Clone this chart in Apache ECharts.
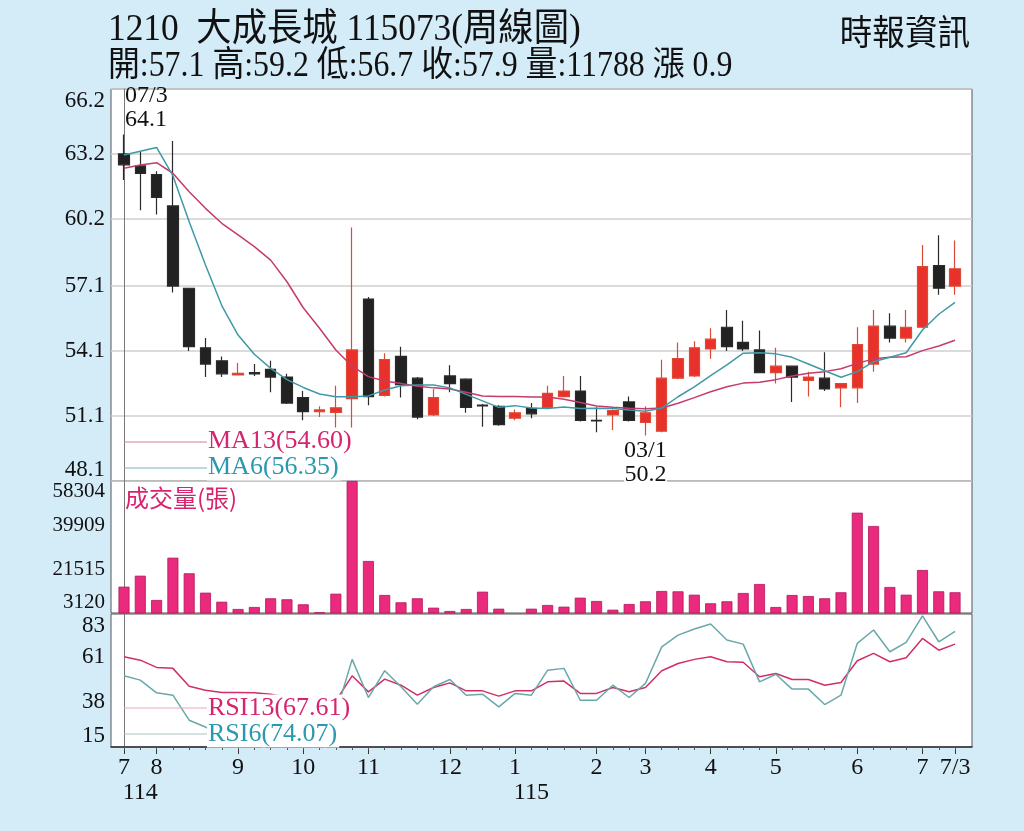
<!DOCTYPE html>
<html><head><meta charset="utf-8">
<script src="https://cdn.jsdelivr.net/npm/echarts@6/dist/echarts.min.js"></script>
<style>html,body{margin:0;padding:0;background:#d4ebf8;}#c{width:1024px;height:831px;}</style>
</head><body><div id="c"></div>
<script>
const CATEGORIES = ['114/07/3','114/07/4','114/08/1','114/08/2','114/08/3','114/08/4','114/08/5','114/09/1','114/09/2','114/09/3','114/09/4','114/10/1','114/10/2','114/10/3','114/10/4','114/11/1','114/11/2','114/11/3','114/11/4','114/11/5','114/12/1','114/12/2','114/12/3','114/12/4','115/01/1','115/01/2','115/01/3','115/01/4','115/01/5','115/02/1','115/02/2','115/02/3','115/03/1','115/03/2','115/03/3','115/03/4','115/04/1','115/04/2','115/04/3','115/04/4','115/05/1','115/05/2','115/05/3','115/05/4','115/05/5','115/06/1','115/06/2','115/06/3','115/06/4','115/07/1','115/07/2','115/07/3'];
const OPEN  = [63.2,62.65,62.25,60.8,57.0,54.25,53.65,53.0,53.1,53.25,52.9,51.95,51.3,51.27,51.9,56.5,52.05,53.85,52.85,51.15,52.95,52.8,51.6,51.55,51.0,51.45,51.5,52.0,52.25,50.9,51.15,51.75,50.8,50.4,52.85,52.95,54.2,55.2,54.5,54.15,53.1,53.4,52.75,52.85,52.4,52.4,53.5,55.25,54.7,55.2,58.05,57.1];
const CLOSE = [62.7,62.3,61.2,57.1,54.3,53.5,53.05,53.07,53.05,52.9,51.7,51.3,51.38,51.48,54.15,52.0,53.7,52.55,51.05,51.95,52.6,51.5,51.57,50.7,51.25,51.2,52.15,52.25,50.9,50.88,51.35,50.9,51.25,52.85,53.75,54.25,54.65,54.3,54.2,53.1,53.4,52.9,52.9,52.35,52.6,54.4,55.25,54.7,55.2,58.0,57.0,57.9];
const LOW   = [62.0,60.6,60.4,56.8,54.1,52.9,52.9,53.0,52.95,52.2,51.65,50.9,51.05,50.5,50.55,51.6,52.0,51.95,50.95,51.1,52.2,51.25,50.6,50.65,50.9,51.0,51.45,51.95,50.85,50.35,50.45,50.85,50.2,50.35,52.8,52.9,53.75,54.1,54.1,53.1,52.6,51.75,52.0,52.25,51.5,51.7,53.15,54.5,54.5,55.15,56.7,56.7];
const HIGH  = [64.1,63.3,62.4,63.8,57.0,54.7,53.85,53.55,53.5,53.65,53.05,52.25,51.55,52.5,59.8,56.6,54.0,54.3,52.9,52.35,53.45,52.85,51.65,51.6,51.4,51.7,52.5,52.95,52.95,51.5,51.4,52.0,51.55,53.7,54.5,54.55,55.15,56.0,55.5,55.05,54.25,53.4,53.15,54.05,52.6,55.2,56.0,55.85,56.0,59.0,59.45,59.2];
const VOLUME = [14120,18710,8555,26240,19710,11620,7840,4790,5630,9270,8850,6750,3400,11190,58304,24860,10650,7590,9270,5340,3960,4790,12030,4920,3120,4920,6460,5760,9520,8140,4500,6880,8010,12320,12180,10770,7170,8010,11480,15240,5630,10650,10230,9270,11780,45050,39490,13990,10770,21100,12190,11788];
const MA13 = [62.54,62.69,62.8,62.31,61.46,60.69,60.0,59.46,58.92,58.3,57.3,56.1,55.15,54.15,53.4,52.92,52.72,52.6,52.47,52.4,52.35,52.2,52.02,52.0,52.0,51.98,51.98,51.87,51.72,51.56,51.5,51.46,51.44,51.47,51.69,51.95,52.22,52.45,52.62,52.66,52.78,52.95,53.07,53.15,53.28,53.53,53.74,53.81,53.84,54.12,54.33,54.60];
const MA6  = [63.15,63.33,63.5,62.2,60.07,58.07,56.2,54.84,53.95,53.3,52.78,52.42,52.12,51.99,51.99,52.03,52.3,52.5,52.53,52.53,52.4,52.1,51.8,51.5,51.58,51.47,51.45,51.52,51.45,51.46,51.45,51.38,51.32,51.47,51.99,52.45,52.97,53.46,54.0,54.02,53.97,53.81,53.5,53.19,52.89,53.15,53.61,53.81,54.02,55.07,55.8,56.35];
const RSI13 = [61.1,59.4,55.7,55.2,46.1,44.0,42.9,42.9,42.7,42.0,40.5,39.0,38.0,38.6,51.4,43.2,49.7,46.6,41.5,45.4,47.8,43.7,43.7,41.0,43.7,43.7,48.3,48.7,42.4,42.4,45.4,43.2,45.4,54.0,57.7,59.8,61.1,58.6,58.3,50.9,52.6,49.5,49.5,46.6,48.0,59.1,62.9,58.6,60.6,70.5,64.5,67.61];
const RSI6  = [51.4,49.2,42.7,41.5,28.7,25.2,21,19,17,13,9,7,6,32,59.8,40.3,54.0,45.8,36.9,45.8,49.5,41.5,42.0,35.5,42.4,41.5,54.3,55.2,38.9,38.9,46.6,40.3,47.5,66.2,72.2,75.3,77.9,69.7,67.6,48.3,52.2,44.6,44.6,36.7,41.5,68.0,74.8,63.7,68.5,82.0,68.8,74.07];
const PRICE_TICKS = [48.1, 51.1, 54.1, 57.1, 60.2, 63.2, 66.2];
const VOLUME_TICKS = [3120, 21515, 39909, 58304];
const RSI_TICKS = [15, 38, 61, 83];
const MONTH_LABELS = ['7','','8','','','','','9','','','','10','','','','11','','','','','12','','','','1','','','','','2','','','3','','','','4','','','','5','','','','','6','','','','7','','7/3'];
const YEAR_LABELS = ['','114','','','','','','','','','','','','','','','','','','','','','','','','115','','','','','','','','','','','','','','','','','','','','','','','','','',''];

const SERIF = '"Liberation Serif", "Noto Sans CJK TC", serif';
const XMIN = -0.798, XMAX = 52.04;
const idx = CATEGORIES.map((c, i) => i);
const majorIdx = idx.filter(i => MONTH_LABELS[i] !== '');
const yearIdx = idx.filter(i => YEAR_LABELS[i] !== '');
const n = CATEGORIES.length - 1;
const chg = (CLOSE[n] - CLOSE[n - 1]).toFixed(1);

const chart = echarts.init(document.getElementById('c'));
const gridBase = {left: 111, right: 52, show: true, backgroundColor: '#fff', borderColor: '#555', borderWidth: 1};
const axisLbl = {fontFamily: SERIF, fontSize: 23, color: '#111', margin: 6};
function xHidden(g) { return {type: 'value', gridIndex: g, min: XMIN, max: XMAX, show: false}; }

chart.setOption({
  animation: false,
  backgroundColor: '#d4ebf8',
  grid: [
    Object.assign({top: 89, height: 392}, gridBase),
    Object.assign({top: 481, height: 132}, gridBase),
    Object.assign({top: 614, height: 133}, gridBase)
  ],
  xAxis: [
    xHidden(0), xHidden(1),
    {type: 'value', gridIndex: 2, position: 'bottom', min: XMIN, max: XMAX,
      axisLine: {show: true, lineStyle: {color: '#333', width: 1.5}},
      axisTick: {show: true, customValues: majorIdx, length: 7, lineStyle: {color: '#333'}},
      axisLabel: Object.assign({}, axisLbl, {fontSize: 24, margin: 9, customValues: majorIdx, formatter: v => MONTH_LABELS[Math.round(v)]}),
      splitLine: {show: false}},
    {type: 'value', gridIndex: 2, position: 'bottom', min: XMIN, max: XMAX,
      axisLine: {show: false},
      axisTick: {show: true, customValues: idx, length: 3, lineStyle: {color: '#555'}},
      axisLabel: {show: false}, splitLine: {show: false}},
    {type: 'value', gridIndex: 2, position: 'bottom', min: XMIN, max: XMAX, offset: 25,
      axisLine: {show: false}, axisTick: {show: false},
      axisLabel: Object.assign({}, axisLbl, {fontSize: 24, margin: 9, customValues: yearIdx, formatter: v => YEAR_LABELS[Math.round(v)]}),
      splitLine: {show: false}}
  ],
  yAxis: [
    {type: 'value', gridIndex: 0, min: 48.1, max: 66.2,
      axisLine: {show: true, lineStyle: {color: '#777'}},
      axisTick: {show: false, customValues: PRICE_TICKS},
      axisLabel: Object.assign({}, axisLbl, {customValues: PRICE_TICKS, formatter: v => v.toFixed(1), verticalAlignMinLabel: 'bottom', verticalAlignMaxLabel: 'top'}),
      splitLine: {show: true, lineStyle: {color: '#cfcfcf', width: 1.5}}},
    {type: 'value', gridIndex: 1, min: 3120, max: 58304,
      axisLine: {show: true, lineStyle: {color: '#777'}},
      axisTick: {show: false},
      axisLabel: Object.assign({}, axisLbl, {fontSize: 21, customValues: VOLUME_TICKS, formatter: v => String(Math.round(v)), verticalAlignMinLabel: 'bottom', verticalAlignMaxLabel: 'top'}),
      splitLine: {show: false}},
    {type: 'value', gridIndex: 2, min: 15, max: 83,
      axisLine: {show: true, lineStyle: {color: '#777'}},
      axisTick: {show: false},
      axisLabel: Object.assign({}, axisLbl, {customValues: RSI_TICKS, formatter: v => String(Math.round(v)), verticalAlignMinLabel: 'bottom', verticalAlignMaxLabel: 'top'}),
      splitLine: {show: false}}
  ],
  series: [
    {type: 'candlestick', xAxisIndex: 0, yAxisIndex: 0, barWidth: 11,
      data: idx.map(i => [i, OPEN[i], CLOSE[i], LOW[i], HIGH[i]]),
      encode: {x: 0, y: [1, 2, 3, 4]},
      itemStyle: {color: '#e8312b', color0: '#222222', borderColor: '#dc4a36', borderColor0: '#2a2a2a', borderWidth: 1.2},
      markPoint: {
        symbol: 'rect', symbolSize: 1, itemStyle: {color: 'rgba(0,0,0,0)'},
        label: {fontFamily: SERIF, fontSize: 24, lineHeight: 24, color: '#111'},
        data: [
          {coord: [0, HIGH[0]], value: HIGH[0],
            label: {position: 'top', distance: 2, align: 'left', offset: [1, 0],
              formatter: CATEGORIES[0].slice(4) + '\n' + HIGH[0].toFixed(1)}},
          {coord: [32, LOW[32]], value: LOW[32],
            label: {position: 'bottom', distance: 3, backgroundColor: '#fff',
              formatter: CATEGORIES[32].slice(4) + '\n' + LOW[32].toFixed(1)}}
        ]
      }
    },
    {type: 'line', name: 'MA13', xAxisIndex: 0, yAxisIndex: 0, data: idx.map(i => [i, MA13[i]]),
      showSymbol: false, lineStyle: {color: '#c63a6c', width: 1.5}, z: 3},
    {type: 'line', name: 'MA6', xAxisIndex: 0, yAxisIndex: 0, data: idx.map(i => [i, MA6[i]]),
      showSymbol: false, lineStyle: {color: '#3e9aa6', width: 1.5}, z: 3},
    {type: 'bar', xAxisIndex: 1, yAxisIndex: 1, barWidth: 11, clip: true,
      data: idx.map(i => [i, VOLUME[i]]),
      itemStyle: {color: '#ea2a7d', borderColor: '#b3175a', borderWidth: 0.8}},
    {type: 'line', name: 'RSI13', xAxisIndex: 2, yAxisIndex: 2, data: idx.map(i => [i, RSI13[i]]),
      showSymbol: false, lineStyle: {color: '#d12e68', width: 1.5}},
    {type: 'line', name: 'RSI6', xAxisIndex: 2, yAxisIndex: 2, data: idx.map(i => [i, RSI6[i]]),
      showSymbol: false, lineStyle: {color: '#69a8aa', width: 1.5}}
  ],
  graphic: [
    {type: 'text', x: 108, y: 30, scaleX: 0.93, z: 100,
      style: {text: '1210  大成長城 115073(周線圖)', font: '38px ' + SERIF, fill: '#111', align: 'left', verticalAlign: 'middle'}},
    {type: 'text', x: 108, y: 67, scaleX: 0.91, z: 100,
      style: {text: '開:' + OPEN[n].toFixed(1) + ' 高:' + HIGH[n].toFixed(1) + ' 低:' + LOW[n].toFixed(1) + ' 收:' + CLOSE[n].toFixed(1) + ' 量:' + VOLUME[n] + ' 漲 ' + chg,
        font: '35px ' + SERIF, fill: '#111', align: 'left', verticalAlign: 'middle'}},
    {type: 'text', x: 970, y: 36, scaleX: 0.93, z: 100,
      style: {text: '時報資訊', font: '35px ' + SERIF, fill: '#111', align: 'right', verticalAlign: 'middle'}},
    {type: 'line', z: 100, shape: {x1: 124, y1: 442, x2: 207, y2: 442}, style: {stroke: '#d0809a', lineWidth: 1}},
    {type: 'text', x: 207, y: 441, z: 100,
      style: {text: 'MA13(' + MA13[n].toFixed(2) + ')', font: '26px ' + SERIF, fill: '#d6246e', align: 'left', verticalAlign: 'middle', backgroundColor: '#fff', padding: [1, 2, 0, 1]}},
    {type: 'line', z: 100, shape: {x1: 124, y1: 468, x2: 207, y2: 468}, style: {stroke: '#7fb0b8', lineWidth: 1}},
    {type: 'text', x: 207, y: 467, z: 100,
      style: {text: 'MA6(' + MA6[n].toFixed(2) + ')', font: '26px ' + SERIF, fill: '#2a98b0', align: 'left', verticalAlign: 'middle', backgroundColor: '#fff', padding: [1, 2, 0, 1]}},
    {type: 'text', x: 125, y: 498, z: 100,
      style: {text: '成交量(張)', font: '24px "Noto Sans CJK TC", ' + SERIF, fill: '#d6246e', align: 'left', verticalAlign: 'middle'}},
    {type: 'line', z: 100, shape: {x1: 124, y1: 708, x2: 207, y2: 708}, style: {stroke: '#eaa6bd', lineWidth: 1}},
    {type: 'text', x: 207, y: 708, z: 100,
      style: {text: 'RSI13(' + RSI13[n].toFixed(2) + ')', font: '26px ' + SERIF, fill: '#d6246e', align: 'left', verticalAlign: 'middle', backgroundColor: '#fff', padding: [1, 2, 0, 1]}},
    {type: 'line', z: 100, shape: {x1: 124, y1: 734, x2: 207, y2: 734}, style: {stroke: '#a8c3c4', lineWidth: 1}},
    {type: 'text', x: 207, y: 734, z: 100,
      style: {text: 'RSI6(' + RSI6[n].toFixed(2) + ')', font: '26px ' + SERIF, fill: '#2a98b0', align: 'left', verticalAlign: 'middle', backgroundColor: '#fff', padding: [1, 2, 0, 1]}}
  ]
});
</script></body></html>
